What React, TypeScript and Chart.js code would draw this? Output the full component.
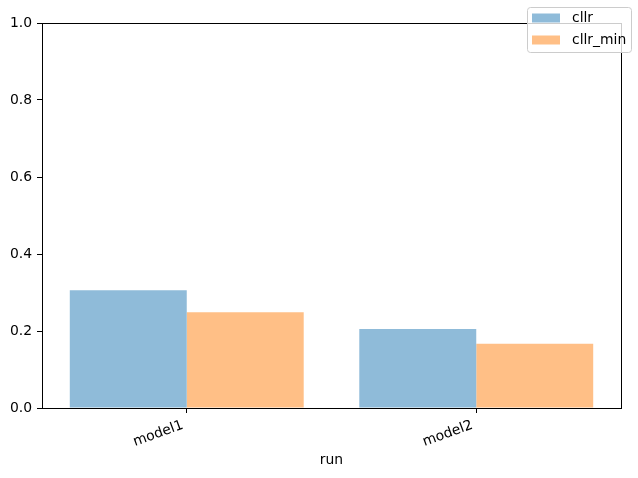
import { useEffect, useRef } from "react"
import { Chart, registerables } from "chart.js"

Chart.register(...registerables)

const runs = ["model1", "model2"]
const cllr = [0.306, 0.205]
const cllrMin = [0.249, 0.167]
const yTicks = [0, 0.2, 0.4, 0.6, 0.8, 1.0]

const FONT = "'DejaVu Sans', sans-serif"
const SIZE = 13.9

// axes box (matplotlib spines) on top of the bars
const spines = {
  id: "spines",
  afterDatasetsDraw(chart: Chart) {
    const { ctx, chartArea: a } = chart
    ctx.save()
    ctx.strokeStyle = "#000"
    ctx.lineWidth = 1
    ctx.strokeRect(Math.round(a.left) + 0.5, Math.round(a.top) + 0.5, Math.round(a.right - a.left), Math.round(a.bottom - a.top))
    ctx.restore()
  },
}

// figure legend in the top right corner
const figLegend = {
  id: "figLegend",
  afterDraw(chart: Chart) {
    const { ctx } = chart
    const x = 527.5
    const y = 7.5
    const w = 104
    const h = 45
    ctx.save()
    ctx.beginPath()
    ctx.roundRect(x, y, w, h, 3)
    ctx.fillStyle = "rgba(255,255,255,0.8)"
    ctx.fill()
    ctx.strokeStyle = "#cccccc"
    ctx.lineWidth = 1
    ctx.stroke()
    ctx.font = `${SIZE}px ${FONT}`
    ctx.textBaseline = "middle"
    chart.data.datasets.forEach((ds, i) => {
      const rowY = 18 + i * 22
      ctx.fillStyle = ds.backgroundColor as string
      ctx.fillRect(532, rowY - 4.5, 28, 9)
      ctx.fillStyle = "#000"
      ctx.fillText(ds.label ?? "", 572, rowY)
    })
    ctx.restore()
  },
}

export default function App() {
  const canvasRef = useRef<HTMLCanvasElement>(null)
  const chartRef = useRef<Chart | null>(null)

  useEffect(() => {
    if (!canvasRef.current) return
    if (chartRef.current) chartRef.current.destroy()

    chartRef.current = new Chart(canvasRef.current, {
      type: "bar",
      data: {
        labels: runs,
        datasets: [
          { label: "cllr", data: cllr, backgroundColor: "#8fbbd9" },
          { label: "cllr_min", data: cllrMin, backgroundColor: "#ffbf86" },
        ],
      },
      options: {
        animation: false,
        responsive: true,
        maintainAspectRatio: false,
        layout: { padding: { top: 23, right: 17, bottom: 0, left: 0 } },
        datasets: { bar: { categoryPercentage: 0.808, barPercentage: 1.0, borderWidth: 0 } },
        plugins: { legend: { display: false }, tooltip: { enabled: false } },
        scales: {
          x: {
            grid: { display: true, offset: false, drawOnChartArea: false, drawTicks: true, tickLength: 5, color: "#000" },
            border: { display: false },
            ticks: {
              color: "#000",
              font: { family: FONT, size: SIZE },
              minRotation: 20,
              maxRotation: 20,
              padding: 4,
              labelOffset: -4,
            },
            title: {
              display: true,
              text: "run",
              color: "#000",
              font: { family: FONT, size: SIZE },
              padding: { top: 0, bottom: 9 },
            },
            afterFit(scale) {
              scale.height = 70
            },
          },
          y: {
            min: 0,
            max: 1,
            grid: { display: true, drawOnChartArea: false, drawTicks: true, tickLength: 5, color: "#000" },
            border: { display: false },
            afterBuildTicks(scale) {
              scale.ticks = yTicks.map((v) => ({ value: v }))
            },
            ticks: {
              color: "#000",
              font: { family: FONT, size: SIZE },
              padding: 5,
              callback: (v) => Number(v).toFixed(1),
            },
            afterFit(scale) {
              scale.width = 42
            },
          },
        },
      },
      plugins: [spines, figLegend],
    })

    return () => {
      if (chartRef.current) {
        chartRef.current.destroy()
        chartRef.current = null
      }
    }
  }, [])

  return (
    <div style={{ position: "fixed", left: 0, top: 0, width: 638, height: 478, background: "#fff" }}>
      <canvas ref={canvasRef} />
    </div>
  )
}
